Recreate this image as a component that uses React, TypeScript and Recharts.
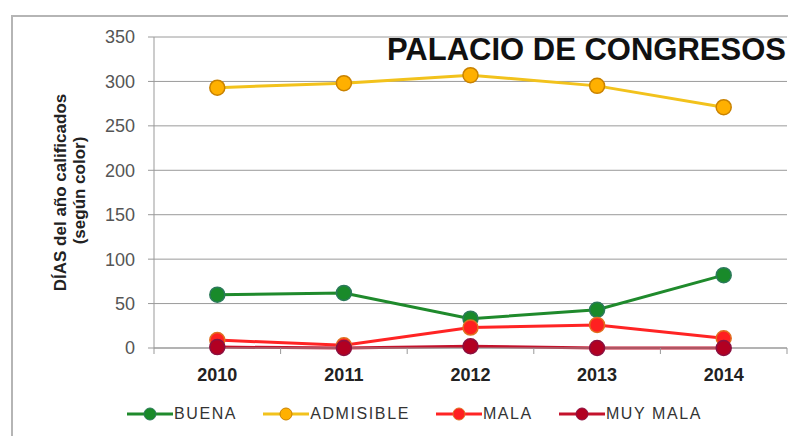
import React from 'react';
import { LineChart, Line, XAxis, YAxis, CartesianGrid, Legend } from 'recharts';

const years = ['2010', '2011', '2012', '2013', '2014'];
const buena = [60, 62, 33, 43, 82];
const admisible = [293, 298, 307, 295, 271];
const mala = [9, 3, 23, 26, 11];
const muyMala = [1, 0, 2, 0, 0];
const yTicks = [0, 50, 100, 150, 200, 250, 300, 350];

const seriesInfo = [
  { key: 'BUENA', line: '#1F8A2C', fill: '#198A2A', stroke: '#2B7A5A' },
  { key: 'ADMISIBLE', line: '#F2C21C', fill: '#FFB000', stroke: '#C98200' },
  { key: 'MALA', line: '#FF2424', fill: '#FF2020', stroke: '#E07020' },
  { key: 'MUY MALA', line: '#C4122C', fill: '#B20022', stroke: '#8A1040' },
];

const data = years.map((y, i) => ({
  year: y,
  BUENA: buena[i],
  ADMISIBLE: admisible[i],
  MALA: mala[i],
  'MUY MALA': muyMala[i],
}));

const W = 788;
const H = 428;
const margin = { top: 29, right: 9, left: 46, bottom: 38 };
const yAxisW = 100;
const plotW = W - margin.left - margin.right - yAxisW;
const bandW = plotW / years.length;
const FONT = '"Liberation Sans", Arial, sans-serif';

const XTick = (props: any) => {
  const { x, y, payload, index } = props;
  const axisY = y - 6 - 12;
  return (
    <g>
      <line x1={x - bandW / 2} x2={x - bandW / 2} y1={axisY} y2={axisY + 6} stroke="#999" />
      {index === years.length - 1 && (
        <line x1={x + bandW / 2} x2={x + bandW / 2} y1={axisY} y2={axisY + 6} stroke="#999" />
      )}
      <text x={x} y={axisY + 33} textAnchor="middle" fontFamily={FONT} fontSize={18} fontWeight="bold" fill="#222">
        {payload.value}
      </text>
    </g>
  );
};

const YLabel = (props: any) => {
  const { viewBox } = props;
  const cy = viewBox.y + viewBox.height / 2;
  const x1 = viewBox.x + 6;
  const x2 = viewBox.x + 25;
  return (
    <g>
      <text transform={`translate(${x1},${cy}) rotate(-90)`} textAnchor="middle" dominantBaseline="central"
        fontFamily={FONT} fontSize={17} fontWeight="bold" fill="#222">
        DÍAS del año calificados
      </text>
      <text transform={`translate(${x2},${cy - 2}) rotate(-90)`} textAnchor="middle" dominantBaseline="central"
        fontFamily={FONT} fontSize={17} fontWeight="bold" fill="#222">
        (según color)
      </text>
    </g>
  );
};

const LegendContent = () => (
  <div style={{ display: 'flex', justifyContent: 'center', alignItems: 'center', gap: 26, paddingRight: 12, fontFamily: FONT }}>
    {seriesInfo.map((s) => (
      <div key={s.key} style={{ display: 'flex', alignItems: 'center' }}>
        <svg width={46} height={16}>
          <line x1={0} x2={46} y1={8} y2={8} stroke={s.line} strokeWidth={3} />
          <circle cx={23} cy={8} r={6} fill={s.fill} stroke={s.stroke} strokeWidth={1} />
        </svg>
        <span style={{ fontSize: 16, letterSpacing: 1.6, color: '#333', marginLeft: 1 }}>{s.key}</span>
      </div>
    ))}
  </div>
);

export default function App() {
  return (
    <div style={{ position: 'relative', width: W, height: H }}>
      <div style={{ position: 'absolute', left: 3, top: 7, width: W - 3, height: H - 7, borderLeft: '2px solid #b5b5b5', borderTop: '2px solid #b5b5b5' }} />
      <LineChart width={W} height={H} data={data} margin={margin}>
        <CartesianGrid horizontal vertical={false} stroke="#9a9a9a" />
        <XAxis dataKey="year" scale="band" axisLine={{ stroke: '#999' }} tickLine={false} tickSize={6} tickMargin={12} tick={<XTick />} height={30} interval={0} />
        <YAxis width={yAxisW} domain={[0, 350]} ticks={yTicks} axisLine={{ stroke: '#999' }} tickLine={{ stroke: '#999' }} tickSize={6}
          tickMargin={13} tick={{ fontFamily: FONT, fontSize: 18, fill: '#555' }} label={<YLabel />} />
        <Legend verticalAlign="bottom" height={20} wrapperStyle={{ bottom: 11 }} content={<LegendContent />} />
        {seriesInfo.map((s) => (
          <Line key={s.key} dataKey={s.key} stroke={s.line} strokeWidth={3} isAnimationActive={false}
            dot={{ r: 7.5, fill: s.fill, stroke: s.stroke, strokeWidth: 1.5 }} activeDot={false} />
        ))}
      </LineChart>
      <div style={{ position: 'absolute', right: 10, top: 24, fontFamily: FONT, fontWeight: 'bold', fontSize: 31, color: '#111', whiteSpace: 'nowrap' }}>
        PALACIO DE CONGRESOS
      </div>
    </div>
  );
}
